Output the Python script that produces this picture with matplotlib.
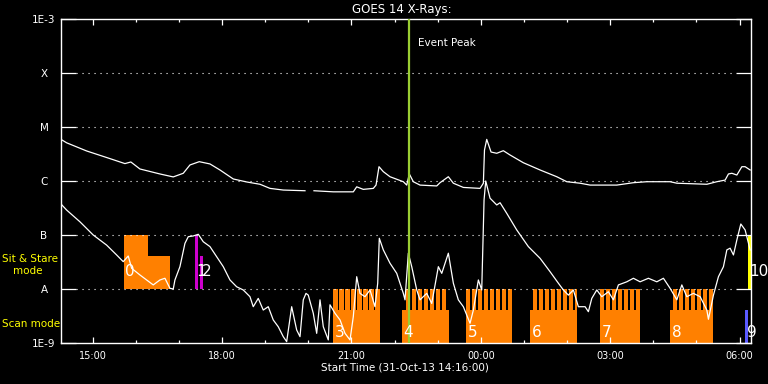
import datetime as dt
import numpy as np
import matplotlib
matplotlib.use("Agg")
import matplotlib.pyplot as plt
import matplotlib.dates as mdates
from matplotlib.ticker import NullLocator

start = dt.datetime(2013, 10, 31, 14, 16)
span_hours = 16.0
event_peak_h = 8.07

# GOES 14 long channel (1-8 A): hours since start, flux W/m^2 (nan = data gap)
long_t = [0.0, 0.13, 0.594, 1.134, 1.482, 1.62, 1.83, 2.294, 2.603, 2.835,
          2.99, 3.206, 3.454, 3.686, 3.995, 4.305, 4.614, 4.846, 5.154, 5.658,
          5.76, 5.866, 6.314, 6.778, 6.857, 7.01, 7.242, 7.305, 7.374, 7.474,
          7.629, 7.938, 8.017, 8.077, 8.17, 8.325, 8.713, 8.789, 8.982, 9.098,
          9.33, 9.717, 9.794, 9.82, 9.872, 9.972, 10.104, 10.257, 10.413, 10.721,
          11.109, 11.496, 11.728, 12.037, 12.269, 12.888, 13.273, 13.584, 14.124, 14.28,
          14.976, 15.208, 15.4, 15.477, 15.556, 15.672, 15.788, 15.864, 15.98]
long_f = [5.9e-6, 5.1e-6, 3.6e-6, 2.6e-6, 2.1e-6, 2.25e-6, 1.67e-6, 1.35e-6, 1.19e-6, 1.39e-6,
          1.98e-6, 2.28e-6, 2.07e-6, 1.6e-6, 1.09e-6, 9.6e-7, 8.7e-7, 7.3e-7, 6.8e-7, 6.6e-7,
          np.nan, 6.6e-7, 6.3e-7, 6.3e-7, 7.8e-7, 7.0e-7, 7.3e-7, 8.4e-7, 1.84e-6, 1.49e-6,
          1.2e-6, 9.7e-7, 8.4e-7, 1.35e-6, 9.7e-7, 8.4e-7, 8.1e-7, 9.3e-7, 1.2e-6, 9.1e-7,
          7.6e-7, 7.3e-7, 9.1e-7, 3.75e-6, 5.9e-6, 3.44e-6, 3.26e-6, 3.64e-6, 3.03e-6, 2.18e-6,
          1.6e-6, 1.2e-6, 9.7e-7, 9.1e-7, 8.4e-7, 8.4e-7, 9.3e-7, 9.7e-7, 9.7e-7, 9.1e-7,
          8.7e-7, 9.7e-7, 1.04e-6, 1.35e-6, 1.39e-6, 1.29e-6, 1.84e-6, 1.84e-6, 1.6e-6]

# short channel (0.5-4 A)
short_t = [0.0, 0.13, 0.438, 0.747, 1.058, 1.29, 1.443, 1.559, 1.638, 1.83,
           1.986, 2.139, 2.294, 2.41, 2.526, 2.603, 2.642, 2.758, 2.874, 2.951,
           3.067, 3.183, 3.299, 3.454, 3.609, 3.763, 3.918, 4.073, 4.226, 4.382,
           4.458, 4.574, 4.69, 4.806, 4.922, 5.038, 5.154, 5.233, 5.349, 5.465,
           5.542, 5.618, 5.681, 5.734, 5.85, 5.929, 6.006, 6.082, 6.198, 6.237,
           6.354, 6.47, 6.586, 6.702, 6.778, 6.857, 6.933, 7.049, 7.165, 7.281,
           7.344, 7.381, 7.474, 7.629, 7.785, 7.938, 7.977, 8.054, 8.133, 8.249,
           8.325, 8.481, 8.597, 8.75, 8.829, 8.982, 9.098, 9.213, 9.33, 9.485,
           9.562, 9.678, 9.756, 9.81, 9.849, 9.949, 10.104, 10.181, 10.336, 10.568,
           10.837, 11.109, 11.341, 11.533, 11.649, 11.765, 11.881, 11.997, 12.153, 12.229,
           12.308, 12.424, 12.54, 12.693, 12.809, 12.925, 13.12, 13.273, 13.428, 13.621,
           13.816, 13.969, 14.124, 14.28, 14.396, 14.512, 14.665, 14.821, 14.976, 15.013,
           15.129, 15.245, 15.361, 15.44, 15.516, 15.593, 15.672, 15.764, 15.864, 15.941,
           15.98]
short_f = [3.75e-7, 2.9e-7, 1.76e-7, 1.0e-7, 6.5e-8, 4.27e-8, 3.21e-8, 4.08e-8, 2.42e-8, 1.82e-8,
           1.47e-8, 1.19e-8, 1.47e-8, 1.58e-8, 1.03e-8, 1.0e-8, 1.47e-8, 2.59e-8, 7.0e-8, 9.3e-8,
           9.6e-8, 1.03e-7, 7.5e-8, 6.1e-8, 3.97e-8, 2.59e-8, 1.47e-8, 1.1e-8, 9.6e-9, 7.2e-9,
           4.7e-9, 6.7e-9, 4.08e-9, 4.7e-9, 2.67e-9, 2.0e-9, 1.31e-9, 1.06e-9, 4.7e-9, 1.74e-9,
           1.31e-9, 6.3e-9, 8.3e-9, 7.7e-9, 3.55e-9, 1.51e-9, 6.3e-9, 2.0e-9, 1.14e-9, 5.1e-9,
           3.55e-9, 2.67e-9, 1.51e-9, 1.14e-9, 3.07e-9, 1.69e-8, 8.3e-9, 7.2e-9, 9.6e-9, 4.7e-9,
           1.28e-8, 8.7e-8, 5.3e-8, 3.0e-8, 1.95e-8, 8.3e-9, 6.3e-9, 4.6e-8, 2.59e-8, 9.6e-9,
           6.3e-9, 8.3e-9, 5.4e-9, 2.59e-8, 1.95e-8, 4.6e-8, 1.28e-8, 6.3e-9, 4.7e-9, 2.32e-9,
           4.08e-9, 1.47e-8, 9.6e-9, 4.45e-7, 1.0e-6, 4.8e-7, 3.6e-7, 3.96e-7, 2.52e-7, 1.24e-7,
           6.1e-8, 3.7e-8, 2.09e-8, 1.28e-8, 9.6e-9, 7.7e-9, 9.6e-9, 4.7e-9, 4.7e-9, 3.8e-9,
           6.7e-9, 9.6e-9, 7.2e-9, 8.9e-9, 6.3e-9, 1.19e-8, 1.36e-8, 1.58e-8, 1.36e-8, 1.58e-8,
           1.36e-8, 1.58e-8, 1.03e-8, 6.3e-9, 1.19e-8, 7.2e-9, 8.3e-9, 7.2e-9, 4.08e-9, 2.75e-9,
           7.7e-9, 1.69e-8, 2.59e-8, 5.3e-8, 5.7e-8, 4.27e-8, 8.1e-8, 1.6e-7, 1.24e-7, 7.0e-8,
           5.3e-8]

# sit & stare observations (drawn from 1e-8 up)
ss_start = [1.46, 2.02, 3.106, 3.222, 15.934]
ss_end = [2.02, 2.526, 3.168, 3.294, 16.0]
ss_top = [1e-7, 4.1e-8, 1e-7, 4.1e-8, 1e-7]
ss_color = ["#ff8000", "#ff8000", "#cc00cc", "#cc00cc", "#ffff00"]

# scan mode observations (drawn from 1e-9 up)
scan_start = [6.314, 7.908, 9.392, 10.876, 12.5, 14.125, 15.864]
scan_end = [7.398, 8.998, 10.459, 11.966, 13.428, 15.115, 15.934]
scan_color = ["#ff8000"] * 6 + ["#5a5aff"]
scan_base_top = 4.1e-9
scan_teeth = [
    [6.314, 6.453, 6.592, 6.732, 6.871, 7.010, 7.149, 7.288],
    [7.999, 8.138, 8.277, 8.417, 8.556, 8.695, 8.834],
    [9.392, 9.531, 9.671, 9.810, 9.949, 10.088, 10.227, 10.366],
    [10.940, 11.079, 11.218, 11.357, 11.496, 11.636, 11.775, 11.914],
    [12.500, 12.639, 12.778, 12.917, 13.057, 13.196, 13.335],
    [14.187, 14.326, 14.465, 14.604, 14.744, 14.883, 15.022],
    [],
]
tooth_w = 0.1

obs_labels = ["0", "1", "2", "3", "4", "5", "6", "7", "8", "9", "10"]
obs_label_t = [1.46, 3.106, 3.222, 6.314, 7.908, 9.392, 10.876, 12.5, 14.125, 15.864, 15.934]
obs_label_f = [2.15e-8, 2.15e-8, 2.15e-8, 1.56e-9, 1.56e-9, 1.56e-9, 1.56e-9,
               1.56e-9, 1.56e-9, 1.56e-9, 2.15e-8]

ylevels = [1e-9, 1e-8, 1e-7, 1e-6, 1e-5, 1e-4, 1e-3]
ylabels = ["1E-9", "A", "B", "C", "M", "X", "1E-3"]


def to_time(hours):
    return [start + dt.timedelta(hours=h) for h in hours]


fig = plt.figure(figsize=(7.68, 3.84), dpi=100, facecolor="black")
ax = fig.add_axes([61 / 768, 41 / 384, 690 / 768, 324 / 384], facecolor="black")
ax.set_yscale("log")

# sit & stare boxes
for s, e, top, c in zip(ss_start, ss_end, ss_top, ss_color):
    ax.bar(to_time([s])[0], top - 1e-8, width=(e - s) / 24, bottom=1e-8,
           align="edge", color=c, linewidth=0, zorder=1)

# scan mode boxes with their comb of exposures
for s, e, c, teeth in zip(scan_start, scan_end, scan_color, scan_teeth):
    ax.bar(to_time([s])[0], scan_base_top - 1e-9, width=(e - s) / 24, bottom=1e-9,
           align="edge", color=c, linewidth=0, zorder=1)
    for t in teeth:
        w = min(tooth_w, e - t)
        ax.bar(to_time([t])[0], 1e-8 - 1e-9, width=w / 24, bottom=1e-9,
               align="edge", color=c, linewidth=0, zorder=1)

ax.plot(to_time(long_t), long_f, color="white", lw=0.9, zorder=3)
ax.plot(to_time(short_t), short_f, color="white", lw=0.9, zorder=3)

# dotted class lines
for lev in ylevels[1:-1]:
    ax.axhline(lev, xmin=15 / 690, xmax=1 - 15 / 690, color="white",
               lw=0.8, ls=(0, (1, 4.4)), zorder=2)

ev = to_time([event_peak_h])[0]
ax.axvline(ev, color="#9acd32", lw=1.6, zorder=4)
ax.text(to_time([event_peak_h + 0.21])[0], 3.6e-4, "Event Peak", color="white",
        fontsize=7.5, va="center", ha="left")

for lab, t, f in zip(obs_labels, obs_label_t, obs_label_f):
    ax.annotate(lab, (to_time([t])[0], f), xytext=(1.1, 0), textcoords="offset points",
                color="white", fontsize=11, va="center", ha="left", zorder=5,
                annotation_clip=False)

ax.set_xlim(start, start + dt.timedelta(hours=span_hours))
ax.set_ylim(1e-9, 1e-3)
ax.set_yticks(ylevels, ylabels)
ax.yaxis.set_minor_locator(NullLocator())
for lbl in ax.get_yticklabels():
    lbl.set_horizontalalignment("center")

ax.xaxis.set_major_locator(mdates.HourLocator(byhour=range(0, 24, 3)))
ax.xaxis.set_minor_locator(mdates.HourLocator())
ax.xaxis.set_major_formatter(mdates.DateFormatter("%H:%M"))

ax.tick_params(axis="y", which="major", direction="in", length=10.8, width=0.9,
               left=True, right=True, colors="white", labelsize=7.5, pad=12.2)
ax.tick_params(axis="x", which="major", direction="in", length=4.5, width=0.9,
               top=True, bottom=True, colors="white", labelsize=7, pad=6)
ax.tick_params(axis="x", which="minor", direction="in", length=2.5, width=0.9,
               top=True, bottom=True, colors="white")
for sp in ax.spines.values():
    sp.set_color("white")
    sp.set_linewidth(1.0)

fig.text(402 / 768, 1 - 9.5 / 384, "GOES 14 X-Rays:", color="white", fontsize=8.5,
         ha="center", va="center")
fig.text(404.7 / 768, 1 - 368 / 384, "Start Time (31-Oct-13 14:16:00)", color="white",
         fontsize=7.5, ha="center", va="center")
fig.text(1.7 / 768, 1 - 259 / 384, "Sit & Stare", color="#ffff00", fontsize=7.5,
         ha="left", va="center")
fig.text(12.7 / 768, 1 - 271 / 384, "mode", color="#ffff00", fontsize=7.5,
         ha="left", va="center")
fig.text(1.7 / 768, 1 - 324 / 384, "Scan mode", color="#ffff00", fontsize=7.5,
         ha="left", va="center")

fig.savefig("out.png", dpi=100, facecolor="black")
